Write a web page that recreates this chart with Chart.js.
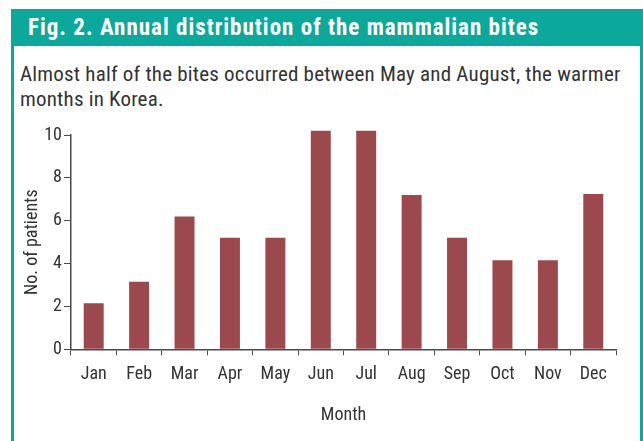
<!DOCTYPE html>
<html>
<head>
<meta charset="utf-8">
<script src="https://cdn.jsdelivr.net/npm/chart.js@4/dist/chart.umd.min.js"></script>
<style>
  html, body { margin:0; padding:0; width:643px; height:441px; overflow:hidden; background:#fff; }
  #frame { position:absolute; left:11px; top:46px; width:626px; height:400px; border-left:3px solid #0AA99B; border-right:3px solid #0AA99B; }
  #titlebar { position:absolute; left:11px; top:9px; width:632px; height:37px; background:#0AA99B; }
  #title { position:absolute; left:28px; top:9px; height:37px; line-height:37px; color:#fff; font-family:"Liberation Sans Narrow","Roboto Condensed","Liberation Sans",sans-serif; font-weight:bold; font-size:23px; letter-spacing:1px; white-space:nowrap; }
  #subtitle { position:absolute; left:20px; top:62px; width:618px; color:#333; font-family:"Liberation Sans Narrow","Roboto Condensed","Liberation Sans",sans-serif; font-size:21px; letter-spacing:0.2px; line-height:25px; }
  #wrap { position:absolute; left:14px; top:115px; width:626px; height:326px; }
</style>
</head>
<body>
<div id="titlebar"></div>
<div id="title">Fig. 2. Annual distribution of the mammalian bites</div>
<div id="frame"></div>
<div id="subtitle">Almost half of the bites occurred between May and August, the warmer months in Korea.</div>
<div id="wrap"><canvas id="c" width="626" height="326"></canvas></div>
<script>
const months = ["Jan","Feb","Mar","Apr","May","Jun","Jul","Aug","Sep","Oct","Nov","Dec"];
const patients = [2.15, 3.15, 6.2, 5.2, 5.2, 10.2, 10.2, 7.2, 5.2, 4.15, 4.15, 7.25];
const yTicks = [0, 2, 4, 6, 8, 10];
const xTitle = "Month";
const yTitle = "No. of patients";

const FONT = '"Liberation Sans Narrow","Roboto Condensed","Liberation Sans",sans-serif';
const AXIS = '#4a4a4a';

new Chart(document.getElementById('c'), {
  type: 'bar',
  data: {
    labels: months,
    datasets: [{
      data: patients,
      backgroundColor: '#9C494D',
      borderWidth: 0,
      barPercentage: 0.44,
      categoryPercentage: 1.0,
      clip: false
    }]
  },
  options: {
    responsive: false,
    animation: false,
    layout: { padding: { top: 20, right: 24, bottom: 0, left: 0 } },
    plugins: { legend: { display: false }, tooltip: { enabled: false } },
    scales: {
      x: {
        offset: true,
        grid: { display: true, drawOnChartArea: false, drawTicks: true, tickLength: 6, color: AXIS, lineWidth: 1, offset: true },
        border: { display: true, color: AXIS, width: 1.5 },
        ticks: { color: '#333', font: { family: FONT, size: 18 }, padding: 8 },
        title: { display: true, text: xTitle, color: '#333', font: { family: FONT, size: 18 }, padding: { top: 14, bottom: 15 } },
        afterFit: (s) => { s.height = 91.7; }
      },
      y: {
        min: 0, max: 10,
        afterBuildTicks: (s) => { s.ticks = yTicks.map(v => ({ value: v })); },
        grid: { display: true, drawOnChartArea: false, drawTicks: true, tickLength: 7, color: AXIS, lineWidth: 1 },
        border: { display: true, color: AXIS, width: 1.5 },
        ticks: { color: '#333', font: { family: FONT, size: 18 }, padding: 2 },
        title: { display: true, text: yTitle, color: '#333', font: { family: FONT, size: 18 }, padding: { top: 8, bottom: 0 } },
        afterFit: (s) => { s.width = 57; }
      }
    }
  }
});
</script>
</body>
</html>
